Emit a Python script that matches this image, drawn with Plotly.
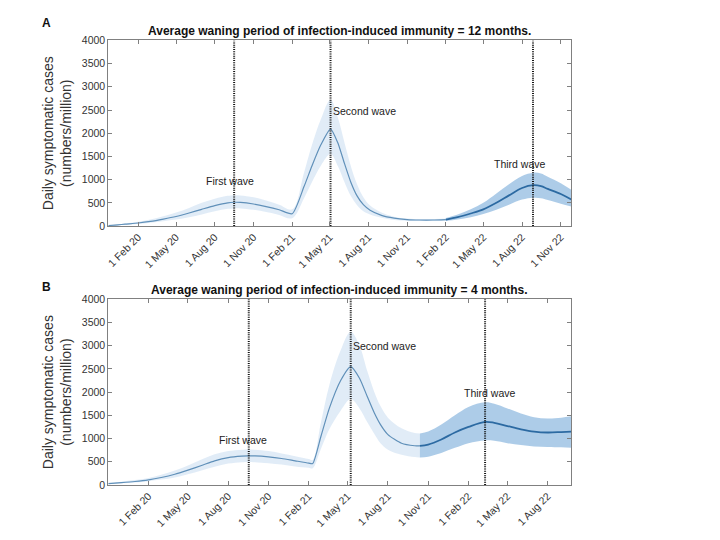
import plotly.graph_objects as go

# ---------------- Panel A data (12 months waning) ----------------
a_dates = ["2019-11-22", "2019-12-15", "2020-01-01", "2020-02-01", "2020-03-01", "2020-04-01",
           "2020-05-01", "2020-06-01", "2020-07-01", "2020-08-01", "2020-09-01", "2020-09-16",
           "2020-10-01", "2020-11-01", "2020-12-01", "2021-01-01", "2021-02-01", "2021-03-01",
           "2021-03-20", "2021-04-10", "2021-05-03", "2021-05-20", "2021-06-05", "2021-06-20",
           "2021-07-05", "2021-07-20", "2021-08-05", "2021-09-01", "2021-10-01", "2021-11-01",
           "2021-12-01", "2022-01-01", "2022-02-01"]
a_mean = [10, 25, 40, 65, 100, 150, 205, 280, 360, 440, 500, 512, 510, 475, 420, 350, 265,
          850, 1300, 1750, 2090, 1800, 1350, 950, 650, 460, 340, 230, 170, 140, 130, 130, 140]
a_upper = [15, 35, 55, 90, 140, 210, 290, 390, 500, 590, 650, 665, 660, 620, 550, 460, 360,
           1150, 1750, 2300, 2720, 2350, 1800, 1300, 900, 620, 440, 290, 200, 160, 145, 150, 160]
a_lower = [5, 18, 28, 45, 70, 105, 140, 190, 250, 320, 370, 380, 380, 350, 300, 240, 170,
           600, 950, 1300, 1550, 1300, 950, 650, 450, 320, 250, 180, 130, 115, 110, 110, 115]

a_fc_dates = ["2022-02-01", "2022-03-01", "2022-04-01", "2022-05-01", "2022-06-01", "2022-07-01",
              "2022-08-01", "2022-08-28", "2022-09-15", "2022-10-01", "2022-11-01", "2022-11-26"]
a_fc_mean = [140, 190, 270, 360, 500, 660, 820, 880, 860, 800, 690, 570]
a_fc_upper = [175, 250, 360, 500, 700, 900, 1080, 1150, 1130, 1060, 920, 780]
a_fc_lower = [110, 140, 190, 260, 350, 460, 570, 610, 600, 560, 480, 420]

a_waves = ["2020-09-16", "2021-05-03", "2022-08-27"]
a_labels = ["First wave", "Second wave", "Third wave"]
a_label_x = ["2020-09-06", "2021-05-03", "2022-07-28"]
a_label_y = [968, 2484, 1347]
a_range = ["2019-11-22", "2022-11-26"]
a_tickvals = ["2020-02-01", "2020-05-01", "2020-08-01", "2020-11-01", "2021-02-01", "2021-05-01",
              "2021-08-01", "2021-11-01", "2022-02-01", "2022-05-01", "2022-08-01", "2022-11-01"]
a_ticktext = ["1 Feb 20", "1 May 20", "1 Aug 20", "1 Nov 20", "1 Feb 21", "1 May 21",
              "1 Aug 21", "1 Nov 21", "1 Feb 22", "1 May 22", "1 Aug 22", "1 Nov 22"]

# ---------------- Panel B data (4 months waning) ----------------
b_dates = ["2019-11-01", "2019-12-01", "2020-01-01", "2020-02-01", "2020-03-01", "2020-04-01",
           "2020-05-01", "2020-06-01", "2020-07-01", "2020-08-01", "2020-09-01", "2020-09-15",
           "2020-10-01", "2020-11-01", "2020-12-01", "2021-01-01", "2021-02-01", "2021-02-10",
           "2021-03-01", "2021-03-20", "2021-04-15", "2021-05-08", "2021-05-28", "2021-06-15",
           "2021-07-01", "2021-07-15", "2021-08-01", "2021-09-01", "2021-10-01", "2021-10-13"]
b_mean = [30, 50, 75, 110, 160, 230, 320, 420, 520, 590, 620, 625, 625, 605, 570, 520, 470, 460,
          1050, 1650, 2250, 2550, 2300, 1900, 1550, 1300, 1085, 900, 845, 840]
b_upper = [40, 70, 105, 150, 220, 310, 420, 550, 660, 730, 760, 765, 760, 730, 680, 620, 560, 540,
           1350, 2150, 2900, 3300, 3000, 2450, 2000, 1700, 1450, 1220, 1120, 1110]
b_lower = [22, 38, 55, 80, 115, 160, 230, 310, 390, 460, 490, 495, 490, 470, 440, 400, 370, 360,
           780, 1200, 1600, 1850, 1650, 1350, 1100, 900, 760, 650, 600, 590]

b_fc_dates = ["2021-10-13", "2021-11-01", "2021-12-01", "2022-01-01", "2022-02-01", "2022-03-11",
              "2022-04-01", "2022-05-01", "2022-06-01", "2022-07-01", "2022-08-01", "2022-09-01",
              "2022-09-24"]
b_fc_mean = [840, 870, 980, 1130, 1250, 1360, 1340, 1270, 1200, 1150, 1130, 1140, 1150]
b_fc_upper = [1110, 1150, 1300, 1500, 1680, 1780, 1750, 1650, 1540, 1460, 1430, 1450, 1480]
b_fc_lower = [590, 610, 690, 800, 900, 960, 950, 900, 860, 830, 820, 810, 800]

b_waves = ["2020-09-17", "2021-05-08", "2022-03-11"]
b_labels = ["First wave", "Second wave", "Third wave"]
b_label_x = ["2020-09-04", "2021-05-08", "2022-03-22"]
b_label_y = [968, 2989, 1979]
b_range = ["2019-11-01", "2022-09-24"]
b_tickvals = ["2020-02-01", "2020-05-01", "2020-08-01", "2020-11-01", "2021-02-01", "2021-05-01",
              "2021-08-01", "2021-11-01", "2022-02-01", "2022-05-01", "2022-08-01"]
b_ticktext = ["1 Feb 20", "1 May 20", "1 Aug 20", "1 Nov 20", "1 Feb 21", "1 May 21",
              "1 Aug 21", "1 Nov 21", "1 Feb 22", "1 May 22", "1 Aug 22"]

titles = ["Average waning period of infection-induced immunity = 12 months.",
          "Average waning period of infection-induced immunity = 4 months."]
panel_letters = ["A", "B"]
y_ticks = [0, 500, 1000, 1500, 2000, 2500, 3000, 3500, 4000]
y_max = 4000

FONT = "Arial, Liberation Sans, sans-serif"
LIGHT_BAND = "rgba(205,224,242,0.6)"
DARK_BAND = "rgba(150,190,226,0.78)"
LIGHT_LINE = "#6090b9"
DARK_LINE = "#2c6aa2"

# page is drawn inside an 8px body margin: figure size is reduced accordingly
W, H = 704, 524

fig = go.Figure()


def add_panel(xa, ya, dates, mean, up, lo, fdates, fmean, fup, flo, waves, labels, lx, ly):
    fig.add_trace(go.Scatter(x=dates, y=up, mode="lines", line=dict(width=0, shape="spline"),
                             xaxis=xa, yaxis=ya, showlegend=False, hoverinfo="skip"))
    fig.add_trace(go.Scatter(x=dates, y=lo, mode="lines", line=dict(width=0, shape="spline"),
                             fill="tonexty", fillcolor=LIGHT_BAND,
                             xaxis=xa, yaxis=ya, showlegend=False, hoverinfo="skip"))
    fig.add_trace(go.Scatter(x=fdates, y=fup, mode="lines", line=dict(width=0, shape="spline"),
                             xaxis=xa, yaxis=ya, showlegend=False, hoverinfo="skip"))
    fig.add_trace(go.Scatter(x=fdates, y=flo, mode="lines", line=dict(width=0, shape="spline"),
                             fill="tonexty", fillcolor=DARK_BAND,
                             xaxis=xa, yaxis=ya, showlegend=False, hoverinfo="skip"))
    fig.add_trace(go.Scatter(x=dates, y=mean, mode="lines",
                             line=dict(color=LIGHT_LINE, width=1.2, shape="spline", smoothing=0.6),
                             xaxis=xa, yaxis=ya, showlegend=False))
    fig.add_trace(go.Scatter(x=fdates, y=fmean, mode="lines",
                             line=dict(color=DARK_LINE, width=1.8, shape="spline"),
                             xaxis=xa, yaxis=ya, showlegend=False))
    for w in waves:
        fig.add_trace(go.Scatter(x=[w, w], y=[0, y_max], mode="lines",
                                 line=dict(color="#111111", width=2, dash="1px,1.2px"),
                                 xaxis=xa, yaxis=ya, showlegend=False, hoverinfo="skip"))
    for i, (t, x, y) in enumerate(zip(labels, lx, ly)):
        fig.add_annotation(x=x, y=y, xref=xa, yref=ya, text=t, showarrow=False,
                           xanchor="left" if i == 1 else "center", xshift=0,
                           font=dict(family=FONT, size=10.5, color="#222222"))


add_panel("x", "y", a_dates, a_mean, a_upper, a_lower, a_fc_dates, a_fc_mean, a_fc_upper, a_fc_lower,
          a_waves, a_labels, a_label_x, a_label_y)
add_panel("x2", "y2", b_dates, b_mean, b_upper, b_lower, b_fc_dates, b_fc_mean, b_fc_upper, b_fc_lower,
          b_waves, b_labels, b_label_x, b_label_y)

x_dom = [(105.7 - 8) / W, (570.7 - 8) / W]
yA = [1 - (225 - 8) / H, 1 - (35 - 8) / H]
yB = [1 - (490 - 8) / H, 1 - (300 - 8) / H]

axis_common = dict(showline=True, linecolor="#808080", linewidth=1, mirror="ticks", ticks="inside",
                   ticklen=4, tickcolor="#808080", showgrid=False, zeroline=False,
                   tickfont=dict(family=FONT, size=10.5, color="#333333"))

ytitle = dict(text="Daily symptomatic cases<br>(numbers/million)",
              font=dict(family=FONT, size=14, color="#333333"), standoff=6)

fig.update_layout(
    width=W, height=H, margin=dict(l=0, r=0, t=0, b=0),
    paper_bgcolor="white", plot_bgcolor="white", showlegend=False,
    xaxis=dict(domain=x_dom, anchor="y", type="date", range=a_range, tickvals=a_tickvals,
               ticktext=a_ticktext, tickangle=-45, **axis_common),
    yaxis=dict(domain=yA, anchor="x", range=[0, y_max], tickvals=y_ticks, title=ytitle, **axis_common),
    xaxis2=dict(domain=x_dom, anchor="y2", type="date", range=b_range, tickvals=b_tickvals,
                ticktext=b_ticktext, tickangle=-45, **axis_common),
    yaxis2=dict(domain=yB, anchor="x2", range=[0, y_max], tickvals=y_ticks, title=ytitle, **axis_common),
)

letter_y = [1 - (17 - 8) / H, 1 - (287 - 8) / H]
for title, letter, dom, ly in zip(titles, panel_letters, [yA, yB], letter_y):
    fig.add_annotation(x=(x_dom[0] + x_dom[1]) / 2, y=dom[1], xref="paper", yref="paper",
                       text="<b>" + title + "</b>", showarrow=False, yanchor="bottom", yshift=0,
                       font=dict(family=FONT, size=12, color="#111111"))
    fig.add_annotation(x=(37 - 8) / W, y=ly, xref="paper", yref="paper", text="<b>" + letter + "</b>",
                       showarrow=False, xanchor="left", yanchor="middle",
                       font=dict(family=FONT, size=12, color="#111111"))

fig.write_html("out.html")
